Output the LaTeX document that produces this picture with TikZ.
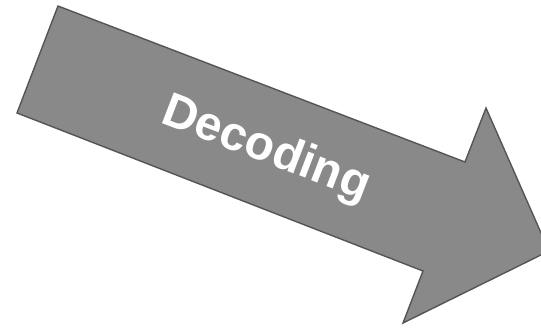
\documentclass[tikz,border=0pt]{standalone}
\usepackage{fontspec}
\setmainfont{Liberation Sans}
\usepackage{tikz}
\usetikzlibrary{positioning}
\definecolor{arrowgray}{RGB}{137,137,137}
\definecolor{edgegray}{RGB}{85,85,85}

\begin{document}
\begin{tikzpicture}[x=1pt, y=-1pt,
    bigarrow/.style={draw=edgegray, fill=arrowgray, line width=1.4pt, line join=miter},
    label/.style={text=white, font=\fontsize{48}{48}\selectfont\bfseries, rotate=-21}
]
\useasboundingbox (0,0) rectangle (541,327);
\clip (0,0) rectangle (541,327);

% Outline points
\coordinate (tailtop) at (58,6);
\coordinate (notchtop) at (465,162);
\coordinate (headtop) at (486,108);
\coordinate (tip) at (549,251);
\coordinate (headbot) at (403,323);
\coordinate (notchbot) at (423,271);
\coordinate (tailbot) at (17,113);

% Arrow
\draw[bigarrow] (tailtop) -- (notchtop) -- (headtop) -- (tip) -- (headbot)
    -- (notchbot) -- (tailbot) -- cycle;

% Caption
\node[label] (decoding) at (266,150) {Decoding};

\end{tikzpicture}
\end{document}
